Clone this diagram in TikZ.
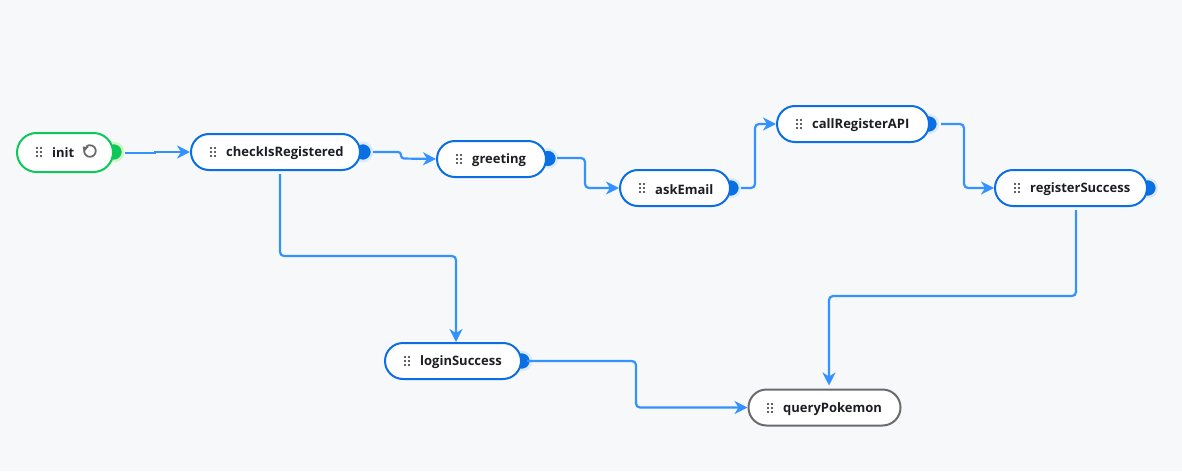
\documentclass[tikz,border=0pt]{standalone}
\usepackage{fontspec}
\setmainfont{Open Sans}
\usetikzlibrary{shapes.misc,arrows.meta}
\definecolor{bgc}{HTML}{F7F8FA}
\definecolor{pblue}{HTML}{0A6FE3}
\definecolor{haloblue}{HTML}{DCEBFC}
\definecolor{pgreen}{HTML}{0CC85A}
\definecolor{halogreen}{HTML}{D3F3C4}
\definecolor{pgrey}{HTML}{6B6B6B}
\definecolor{edgec}{HTML}{3392FF}
\definecolor{txt}{HTML}{1C1E23}
\definecolor{dotc}{HTML}{2B2B2B}
\tikzset{
  pill/.style={rounded rectangle,draw=pblue,fill=white,line width=2pt,minimum height=36pt,inner sep=0pt},
  portnode/.style={circle,fill=pblue,minimum size=18pt,inner sep=0pt,draw=haloblue,line width=2.5pt},
  lbl/.style={anchor=west,inner sep=0pt,text=txt,font=\fontsize{13}{15}\selectfont\bfseries},
  edge/.style={draw=edgec,line width=2.2pt,rounded corners=4pt,-{Stealth[length=13pt,width=13pt,inset=4pt]}},
}
\newcommand{\grip}[2]{%
  \foreach \dx in {-2,2}{\foreach \dy in {-4,0,4}{\fill[dotc] (#1+\dx,#2+\dy) circle (1.05pt);}}}
\begin{document}
\begin{tikzpicture}[x=1pt,y=-1pt]
\useasboundingbox (0,0) rectangle (1182,471);
\fill[bgc] (0,0) rectangle (1182,471);
% ports
\node[portnode,fill=pgreen,draw=halogreen] (initp) at (114,152) {};
\node[portnode] (checkp) at (363,152) {};
\node[portnode] (greetp) at (548,158.5) {};
\node[portnode] (askp) at (731,188) {};
\node[portnode] (callp) at (929,124) {};
\node[portnode] (regp) at (1148,188) {};
\node[portnode] (loginp) at (522,361) {};
% connectors
\coordinate (initout) at (125,153);
\coordinate (checkout) at (373,152);
\coordinate (greetout) at (557,158);
\coordinate (askout) at (741,188);
\coordinate (callout) at (941,124);
\coordinate (loginout) at (527,361);
% pills
\node[pill,draw=pgreen,minimum width=96pt,minimum height=39pt] (init) at (65,152.5) {};
\node[pill,minimum width=169pt] (check) at (275.5,152) {};
\node[pill,minimum width=109pt] (greet) at (491.5,159) {};
\node[pill,minimum width=110pt] (ask) at (675,188) {};
\node[pill,minimum width=152pt] (call) at (853,124) {};
\node[pill,minimum width=152pt] (reg) at (1071,188) {};
\node[pill,minimum width=136pt] (login) at (453,361) {};
\node[pill,draw=pgrey,minimum width=152pt] (query) at (824.5,407.5) {};
\draw[edge,rounded corners=0pt] (initout) -- (155,153) -- (155,152) -- (check.west);
\draw[edge,rounded corners=3pt] (checkout) -- (401,152) -- (401,158.5) -- (greet.west);
\draw[edge] (greetout) -- (585,158) -- (585,188) -- (ask.west);
\draw[edge] (askout) -- (755,188) -- (755,124) -- (call.west);
\draw[edge] (callout) -- (964,124) -- (964,188) -- (reg.west);
\draw[edge] ([xshift=4.5pt,yshift=-3pt]check.south) -- ++(0,82) -| ([xshift=3pt]login.north);
\draw[edge] ([xshift=5pt,yshift=-3pt]reg.south) -- ++(0,86) -| ([xshift=4.5pt,yshift=3pt]query.north);
\draw[edge] (loginout) -- (636,361) -- (636,407.5) -- (query.west);
% labels
\node[lbl] (tinit) at (52,153) {init};
\node[lbl] (tcheck) at (226,153.5) {checkIsRegistered};
\node[lbl] (tgreet) at (472,160.5) {greeting};
\node[lbl] (task) at (655,189.5) {askEmail};
\node[lbl] (tcall) at (812,125.5) {callRegisterAPI};
\node[lbl] (treg) at (1030,189.5) {registerSuccess};
\node[lbl] (tlogin) at (420,362.5) {loginSuccess};
\node[lbl] (tquery) at (783,409) {queryPokemon};
% grips
\grip{39}{152}
\grip{213}{152}
\grip{459}{159}
\grip{642}{188}
\grip{799}{124}
\grip{1017}{188}
\grip{407}{361}
\grip{770}{408}
% reset icon
\draw[pgrey,line width=1.8pt] (84.5,149) arc[start angle=200,end angle=-130,radius=5.8];
\fill[pgrey] (82.5,146.5) -- (88.5,147) -- (84,152) -- cycle;
\end{tikzpicture}
\end{document}
